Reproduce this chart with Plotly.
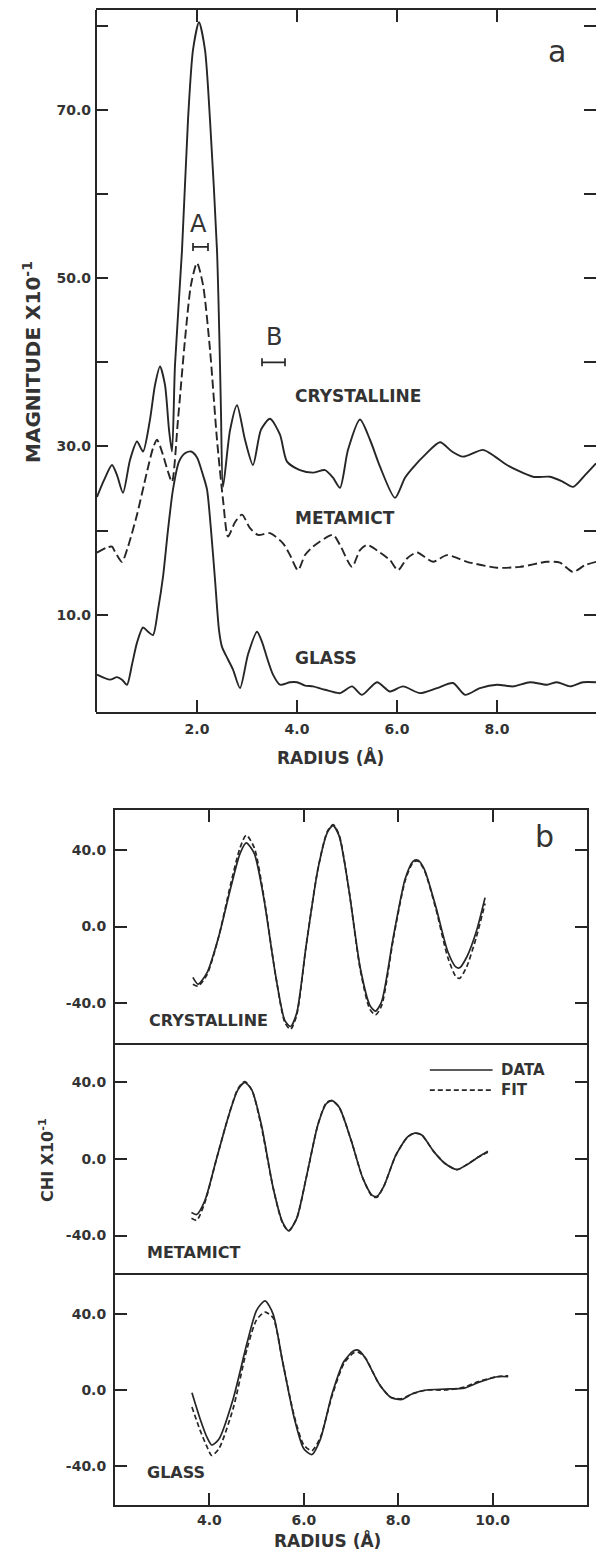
import plotly.graph_objects as go

W, H = 596, 1552

# ---------------- Panel a data (radius in Å, magnitude x10^-1) -------------
a_cryst_x = [0.00, 0.14, 0.30, 0.40, 0.52, 0.66, 0.80, 0.92, 1.06, 1.16, 1.26, 1.36, 1.44, 1.50,
             1.56, 1.70, 1.82, 1.92, 2.04, 2.16, 2.26, 2.40, 2.46, 2.48, 2.52, 2.66, 2.80, 2.96,
             3.12, 3.28, 3.46, 3.66, 3.80, 4.06, 4.32, 4.56, 4.72, 4.86, 5.02, 5.26, 5.46, 5.66,
             5.96, 6.16, 6.32, 6.56, 6.86, 7.10, 7.32, 7.72, 7.96, 8.20, 8.72, 9.06, 9.32, 9.52,
             9.76, 9.98]
a_cryst_y = [24.0, 26.0, 27.8, 26.6, 24.5, 28.4, 30.6, 29.4, 33.2, 37.3, 39.5, 37.3, 32.0, 29.4,
             39.7, 53.3, 68.8, 77.1, 80.4, 77.1, 68.8, 53.3, 39.7, 34.0, 25.2, 31.9, 34.9, 30.8,
             27.8, 32.0, 33.3, 31.4, 28.2, 27.2, 26.9, 27.2, 26.3, 25.1, 29.6, 33.2, 30.8, 27.6,
             23.9, 26.3, 27.5, 29.0, 30.5, 29.4, 28.8, 29.6, 28.8, 27.8, 26.4, 26.4, 25.8, 25.2,
             26.6, 28.0]

a_meta_x = [0.00, 0.20, 0.30, 0.36, 0.50, 0.62, 0.80, 1.00, 1.12, 1.20, 1.32, 1.42, 1.50, 1.62,
            1.76, 1.88, 2.00, 2.12, 2.26, 2.40, 2.52, 2.62, 2.76, 2.90, 3.06, 3.22, 3.46, 3.72,
            3.86, 4.02, 4.16, 4.32, 4.72, 4.86, 5.10, 5.26, 5.40, 5.66, 5.86, 6.02, 6.20, 6.40,
            6.72, 7.00, 7.40, 8.00, 8.46, 9.00, 9.26, 9.52, 9.76, 9.98]
a_meta_y = [17.4, 18.0, 18.1, 17.5, 16.3, 18.1, 21.9, 27.0, 29.8, 30.8, 29.0, 27.0, 25.8, 33.2,
            42.7, 49.2, 51.8, 49.2, 41.5, 30.8, 23.7, 19.3, 21.0, 21.9, 20.3, 19.5, 19.7, 18.5,
            17.1, 15.3, 17.1, 18.1, 19.5, 18.3, 15.7, 17.7, 18.3, 17.4, 16.5, 15.3, 16.7, 17.4,
            16.3, 17.1, 16.3, 15.6, 15.7, 16.3, 16.2, 15.1, 15.9, 16.3]

a_glass_x = [0.00, 0.26, 0.40, 0.50, 0.60, 0.70, 0.80, 0.92, 1.02, 1.12, 1.22, 1.32, 1.42, 1.52,
             1.64, 1.76, 1.88, 2.00, 2.12, 2.20, 2.28, 2.36, 2.44, 2.50, 2.62, 2.72, 2.86, 3.02,
             3.20, 3.30, 3.40, 3.52, 3.66, 3.86, 4.00, 4.16, 4.32, 4.56, 4.86, 5.10, 5.30, 5.60,
             5.86, 6.12, 6.46, 6.80, 7.12, 7.36, 7.66, 8.00, 8.32, 8.66, 9.00, 9.20, 9.46, 9.72,
             9.98]
a_glass_y = [2.9, 2.3, 2.6, 2.3, 1.7, 4.1, 6.7, 8.5, 8.0, 7.6, 10.6, 14.5, 20.1, 24.9,
             28.2, 29.2, 29.4, 28.7, 26.6, 24.9, 20.1, 14.2, 8.2, 6.2, 4.7, 3.5, 1.3, 5.3,
             8.0, 6.8, 4.9, 2.9, 1.7, 2.0, 2.0, 1.6, 1.5, 1.1, 0.7, 1.5, 0.5, 2.0,
             0.9, 1.5, 0.7, 1.3, 1.9, 0.5, 1.3, 1.7, 1.5, 2.0, 1.7, 2.0, 1.5, 2.0,
             2.0]

# distance-range bars A and B
bar_labels = ["A", "B"]
bar_center_x = [2.07, 3.53]
bar_center_y = [53.7, 40.0]
bar_half_width = [0.15, 0.23]

a_y_ticks = [10, 30, 50, 70]
a_y_text = ["10.0", "30.0", "50.0", "70.0"]
a_y_minor = [20, 40, 60, 80]
a_x_ticks = [2, 4, 6, 8]
a_x_text = ["2.0", "4.0", "6.0", "8.0"]

# ---------------- Panel b data (radius, chi x10^-1) ------------------------
b_cryst_x = [3.65, 3.76, 3.95, 4.20, 4.45, 4.65, 4.78, 4.95, 5.15, 5.40, 5.60, 5.72, 5.85, 6.05,
             6.30, 6.50, 6.62, 6.75, 6.95, 7.20, 7.40, 7.52, 7.65, 7.90, 8.15, 8.32, 8.42, 8.55,
             8.80, 9.05, 9.22, 9.30, 9.45, 9.65, 9.84]
b_cryst_data = [-26.5, -30, -24, -5, 20, 38, 43.5, 38, 15, -25, -49, -52, -45, -10,
                30, 49, 52.5, 47, 20, -22, -41, -44, -39, -5, 25, 34, 34.5, 30,
                10, -13, -21, -21.5, -16, -3, 15]
b_cryst_fit = [-30, -31, -25, -5, 22, 41, 47.5, 41, 16, -25, -50, -53.5, -46, -10,
               30, 49.5, 53, 47.5, 20, -23, -43, -46, -41, -6, 24, 33.5, 34, 29.5,
               9, -16, -26, -27, -21, -6, 12]

b_meta_x = [3.62, 3.73, 3.90, 4.15, 4.40, 4.60, 4.75, 4.90, 5.10, 5.35, 5.55, 5.68, 5.85, 6.05,
            6.30, 6.48, 6.60, 6.75, 7.00, 7.25, 7.45, 7.55, 7.70, 7.95, 8.20, 8.35, 8.50, 8.75,
            9.00, 9.25, 9.45, 9.70, 9.90]
b_meta_data = [-28, -29, -22, 0, 22, 36, 40, 36, 18, -15, -33, -37.5, -31, -10,
               18, 29, 30.5, 27, 10, -10, -19, -19.5, -14, 2, 11.5, 13.5, 12.5, 4,
               -2.5, -5.5, -3, 1, 4]
b_meta_fit = [-31, -32, -23, 0, 22, 36.5, 40.5, 36, 17, -15, -33.5, -37.5, -31, -10,
              18, 29.5, 30.5, 27, 10, -10, -19.5, -20, -14, 2, 11.5, 13.5, 12.5, 4,
              -2.5, -5.5, -3, 1, 3.5]

b_glass_x = [3.63, 3.80, 3.95, 4.05, 4.20, 4.50, 4.80, 5.00, 5.18, 5.35, 5.55, 5.80, 6.00, 6.17,
             6.35, 6.60, 6.85, 7.05, 7.15, 7.30, 7.60, 7.85, 8.08, 8.30, 8.60, 9.00, 9.40, 9.70,
             10.10, 10.33]
b_glass_data = [-1.5, -15, -25, -29, -26, -5, 25, 42, 47, 40, 15, -15, -31, -34,
                -26, -2, 15, 20.5, 21, 17, 3, -4, -5, -2, 0, 0.5, 1, 4,
                7, 7]
b_glass_fit = [-9, -21, -30, -34.5, -31, -10, 22, 37, 41, 38, 15, -14, -29, -32,
               -25, -3, 14, 19.5, 20, 17, 3, -4, -4.5, -2, 0, 0, 1.5, 4.5,
               7, 7.5]

b_y_ticks = [-40, 0, 40]
b_y_text = ["-40.0", "0.0", "40.0"]
b_x_ticks = [4, 6, 8, 10]
b_x_text = ["4.0", "6.0", "8.0", "10.0"]

# ---------------- styling --------------------------------------------------
INK = "#262626"
TXT = "#333333"
FONT = "DejaVu Sans"


def px(x):
    return x / W


def py(y):
    return 1 - y / H


fig = go.Figure()

line_solid = dict(color=INK, width=1.9, shape="spline", smoothing=0.7)
line_dash_a = dict(color=INK, width=1.9, shape="spline", smoothing=0.7, dash="9px,4px")

fig.add_trace(go.Scatter(x=a_cryst_x, y=a_cryst_y, mode="lines", line=line_solid,
                         xaxis="x", yaxis="y", showlegend=False))
fig.add_trace(go.Scatter(x=a_meta_x, y=a_meta_y, mode="lines", line=line_dash_a,
                         xaxis="x", yaxis="y", showlegend=False))
fig.add_trace(go.Scatter(x=a_glass_x, y=a_glass_y, mode="lines", line=line_solid,
                         xaxis="x", yaxis="y", showlegend=False))
fig.add_trace(go.Scatter(x=bar_center_x, y=bar_center_y, mode="markers",
                         marker=dict(size=1, color="rgba(0,0,0,0)"),
                         error_x=dict(type="data", array=bar_half_width, symmetric=True,
                                      color=INK, thickness=1.7, width=4),
                         xaxis="x", yaxis="y", showlegend=False))

line_b = dict(color=INK, width=1.7, shape="spline", smoothing=0.7)
line_b_fit = dict(color=INK, width=1.7, shape="spline", smoothing=0.7, dash="5px,3px")

for xs, d, f, xa, ya in [(b_cryst_x, b_cryst_data, b_cryst_fit, "x3", "y2"),
                          (b_meta_x, b_meta_data, b_meta_fit, "x4", "y3"),
                          (b_glass_x, b_glass_data, b_glass_fit, "x2", "y4")]:
    fig.add_trace(go.Scatter(x=xs, y=d, mode="lines", line=line_b, xaxis=xa, yaxis=ya,
                             showlegend=False, name="DATA"))
    fig.add_trace(go.Scatter(x=xs, y=f, mode="lines", line=line_b_fit, xaxis=xa, yaxis=ya,
                             showlegend=False, name="FIT"))

tickfont = dict(family=FONT, size=14, color=TXT, weight="bold")
common = dict(showline=True, linewidth=2, linecolor=INK, ticks="inside", ticklen=12,
              tickwidth=2, tickcolor=INK, showgrid=False, zeroline=False,
              tickfont=tickfont)

# panel a geometry (pixels)
A_L, A_R, A_T, A_B = 96, 596, 10, 712
# panel b geometry
B_L, B_R = 115, 587
B_T, B_1, B_2, B_B = 810, 1043, 1275, 1505

common_noline = dict(common)
common_noline["showline"] = False

fig.update_layout(
    width=W, height=H, autosize=False,
    margin=dict(l=0, r=0, t=0, b=0),
    paper_bgcolor="white", plot_bgcolor="white",
    xaxis=dict(domain=[px(A_L), px(A_R)], range=[-0.02, 9.98], anchor="y",
               tickvals=a_x_ticks, ticktext=a_x_text, mirror="ticks",
               ticklabelstandoff=3, **common),
    yaxis=dict(domain=[py(A_B), py(A_T)], range=[-1.54, 81.85], anchor="x",
               tickvals=a_y_ticks, ticktext=a_y_text, mirror="ticks",
               minor=dict(tickvals=a_y_minor, ticks="inside", ticklen=12, tickwidth=2,
                          tickcolor=INK, showgrid=False),
               ticklabelstandoff=4, **common_noline),
    # panel b: glass (bottom) x axis with labels
    xaxis2=dict(domain=[px(B_L), px(B_R)], range=[2, 12], anchor="y4", side="bottom",
                tickvals=b_x_ticks, ticktext=b_x_text, mirror=True,
                ticklabelstandoff=1, **common),
    # crystalline x axis: ticks on top
    xaxis3=dict(domain=[px(B_L), px(B_R)], range=[2, 12], anchor="y2", side="top",
                matches="x2", tickvals=b_x_ticks, showticklabels=False, mirror=True,
                **common),
    # metamict x axis: no own lines (dividers come from neighbours)
    xaxis4=dict(domain=[px(B_L), px(B_R)], range=[2, 12], anchor="y3", matches="x2",
                showline=False, ticks="", showticklabels=False, showgrid=False,
                zeroline=False),
    yaxis2=dict(domain=[py(B_1), py(B_T)], range=[-60.6, 60.6], anchor="x3",
                tickvals=b_y_ticks, ticktext=b_y_text, mirror="ticks",
                ticklabelstandoff=4, **common),
    yaxis3=dict(domain=[py(B_2), py(B_1)], range=[-60.6, 60.6], anchor="x4",
                tickvals=b_y_ticks, ticktext=b_y_text, mirror="ticks",
                ticklabelstandoff=4, **common),
    yaxis4=dict(domain=[py(B_B), py(B_2)], range=[-60.6, 60.6], anchor="x2",
                tickvals=b_y_ticks, ticktext=b_y_text, mirror="ticks",
                ticklabelstandoff=4, **common),
)

ann = []


def text(t, x, y, size, xref="paper", yref="paper", xanchor="center", yanchor="middle",
         angle=0, weight="bold"):
    ann.append(dict(text=t, x=x, y=y, xref=xref, yref=yref, xanchor=xanchor,
                    yanchor=yanchor, showarrow=False, textangle=angle,
                    font=dict(family=FONT, size=size, color=TXT, weight=weight)))


# axis titles
text("MAGNITUDE X10<sup>-1</sup>", px(32), py(362), 20, angle=-90)
text("RADIUS (Å)", px(330), py(757), 17)
text("CHI X10<sup>-1</sup>", px(46), py(1160), 16, angle=-90)
text("RADIUS (Å)", px(327), py(1540), 17)

# panel a labels
text("a", 9.2, 76.9, 30, xref="x", yref="y", weight="normal")
text(bar_labels[0], bar_center_x[0] - 0.05, 56.4, 24, xref="x", yref="y", weight="normal")
text(bar_labels[1], bar_center_x[1], 43.0, 24, xref="x", yref="y", weight="normal")
text("CRYSTALLINE", 3.92, 36.0, 17, xref="x", yref="y", xanchor="left")
text("METAMICT", 3.92, 21.5, 17, xref="x", yref="y", xanchor="left")
text("GLASS", 3.92, 4.9, 17, xref="x", yref="y", xanchor="left")

# panel b labels
text("b", 11.1, 47, 30, xref="x3", yref="y2", weight="normal")
text("CRYSTALLINE", 2.68, -49, 16, xref="x3", yref="y2", xanchor="left")
text("METAMICT", 2.64, -48.6, 16, xref="x4", yref="y3", xanchor="left")
text("GLASS", 2.64, -43.4, 16, xref="x2", yref="y4", xanchor="left")
text("DATA", 10.14, 46.5, 15, xref="x4", yref="y3", xanchor="left")
text("FIT", 10.14, 36.0, 15, xref="x4", yref="y3", xanchor="left")

fig.update_layout(annotations=ann)

# left border of panel a (right border lies just outside the page)
fig.add_shape(type="line", xref="paper", yref="paper", x0=px(A_L), x1=px(A_L),
              y0=py(A_B), y1=py(A_T), line=dict(color=INK, width=2))

# legend samples
fig.add_shape(type="line", xref="x4", yref="y3", x0=8.67, x1=10.0, y0=46.5, y1=46.5,
              line=dict(color=INK, width=1.7))
fig.add_shape(type="line", xref="x4", yref="y3", x0=8.67, x1=10.0, y0=36.0, y1=36.0,
              line=dict(color=INK, width=1.7, dash="5px,3px"))

fig.write_html("out.html")
